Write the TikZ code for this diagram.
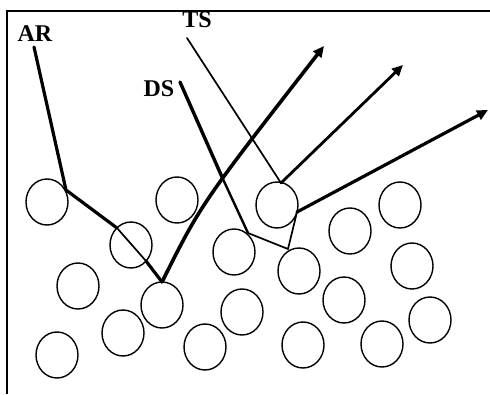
\documentclass[tikz,border=0pt]{standalone}
\usepackage{fontspec}
\setmainfont{Liberation Serif}
\usetikzlibrary{arrows.meta}
\tikzset{
  grano/.style={line width=1.4pt},
  rayo/.style={line width=3.2pt, line cap=round, line join=round},
  rayofino/.style={line width=1.7pt, line cap=round, line join=round},
  punta/.style={-{Triangle[length=11pt,width=10pt]}},
  rotulo/.style={font=\bfseries\fontsize{24}{26}\selectfont, inner sep=0pt}
}
\begin{document}
\begin{tikzpicture}[x=1pt, y=-1pt]
  \useasboundingbox (0,0) rectangle (490,394);
  % el marco, solo arriba y a la izquierda
  \draw[line width=1.4pt] (7,394) -- (7,11) -- (490,11);
  % los granos
  \draw[grano] (47,202) ellipse [x radius=21, y radius=23];
  \draw[grano] (131,245) ellipse [x radius=21, y radius=23];
  \draw[grano] (177,200) ellipse [x radius=21, y radius=23];
  \draw[grano] (78,286) ellipse [x radius=21, y radius=23];
  \draw[grano] (162,305) ellipse [x radius=21, y radius=23];
  \draw[grano] (123,333) ellipse [x radius=21, y radius=23];
  \draw[grano] (57,355) ellipse [x radius=21, y radius=23];
  \draw[grano] (205,347) ellipse [x radius=21, y radius=23];
  \draw[grano] (234,252) ellipse [x radius=21, y radius=23];
  \draw[grano] (242,312) ellipse [x radius=21, y radius=23];
  \draw[grano] (277,205) ellipse [x radius=21, y radius=23];
  \draw[grano] (350,231) ellipse [x radius=21, y radius=23];
  \draw[grano] (400,205) ellipse [x radius=21, y radius=23];
  \draw[grano] (299,271) ellipse [x radius=21, y radius=23];
  \draw[grano] (412,266) ellipse [x radius=21, y radius=23];
  \draw[grano] (344,300) ellipse [x radius=21, y radius=23];
  \draw[grano] (430,320) ellipse [x radius=21, y radius=23];
  \draw[grano] (303,345) ellipse [x radius=21, y radius=23];
  \draw[grano] (382,344) ellipse [x radius=21, y radius=23];
  % los rotulos
  \node[rotulo] (ar) at (35,34) {AR};
  \node[rotulo] (ds) at (159,89) {DS};
  \node[rotulo] (ts) at (197,20) {TS};
  % los puntos de los rayos
  \coordinate (ar0) at (34,47);   \coordinate (ar1) at (66,190);
  \coordinate (ar2) at (117,228); \coordinate (ar3) at (146,261);
  \coordinate (ar4) at (162,282); \coordinate (arfin) at (324,46);
  \coordinate (ts0) at (187,38);  \coordinate (ts1) at (281,183);
  \coordinate (tsfin) at (403,65);
  \coordinate (ds0) at (180,82);  \coordinate (dsx) at (222,177);
  \coordinate (ds1) at (248,233); \coordinate (ds2) at (288,249);
  \coordinate (ds3) at (297,212); \coordinate (dsfin) at (488,110);
  % el rayo AR, que rebota y sale hacia arriba
  \draw[rayo] (ar0) -- (ar1) -- (ar2);
  \draw[rayofino] (ar2) -- (ar3);
  \draw[rayo] (ar3) -- (ar4);
  \draw[rayo, line width=3.6pt, punta] (ar4) .. controls (201,204) .. (arfin);
  % el rayo TS
  \draw[rayofino] (ts0) -- (ts1);
  \draw[rayo, line width=2.8pt, punta] (ts1) -- (tsfin);
  % el rayo DS, que entra y sale de varios granos
  \draw[rayo, line width=3.4pt] (ds0) -- (dsx);
  \draw[rayo, line width=2.4pt] (dsx) -- (ds1);
  \draw[rayofino] (ds1) -- (ds2) -- (ds3);
  \draw[rayo, punta] (ds3) -- (dsfin);
\end{tikzpicture}
\end{document}
